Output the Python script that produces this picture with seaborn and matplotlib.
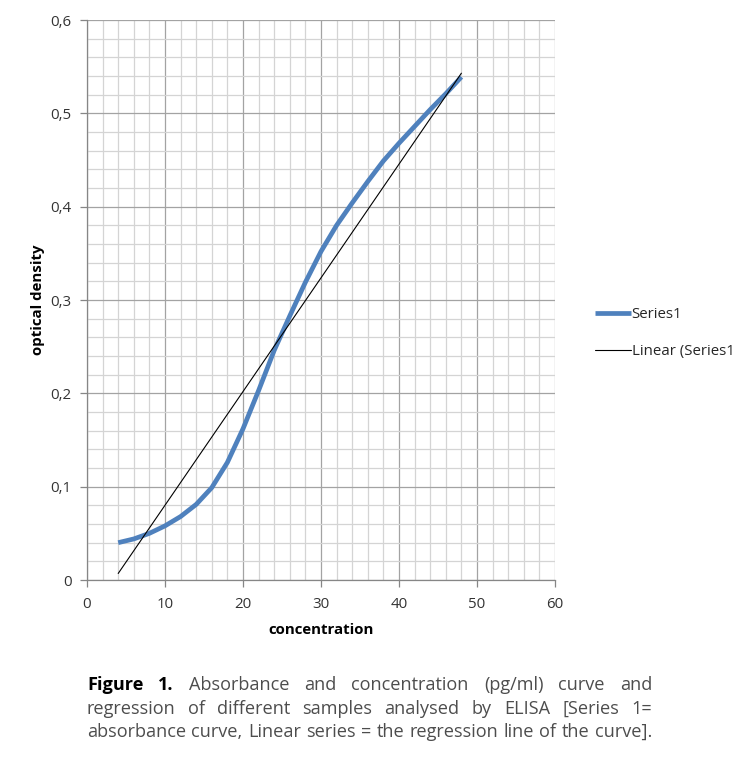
import numpy as np
import pandas as pd
import matplotlib
matplotlib.use("Agg")
import matplotlib.pyplot as plt
import seaborn as sns
from matplotlib.ticker import MultipleLocator, FixedLocator

# ---------------- data ----------------
concentration = [4, 6, 8, 10, 12, 14, 16, 18, 20, 22, 24, 26, 28, 30, 32, 34,
                 36, 38, 40, 42, 44, 46, 48]
optical_density = [0.040, 0.044, 0.050, 0.058, 0.068, 0.081, 0.099, 0.126,
                   0.162, 0.203, 0.246, 0.283, 0.319, 0.352, 0.380, 0.404,
                   0.427, 0.449, 0.468, 0.486, 0.504, 0.521, 0.539]
trend_x = [4, 48]
trend_y = [0.007, 0.543]

x_ticks = [0, 10, 20, 30, 40, 50, 60]
y_ticks = [0.0, 0.1, 0.2, 0.3, 0.4, 0.5, 0.6]
y_tick_labels = ["0", "0,1", "0,2", "0,3", "0,4", "0,5", "0,6"]
series_labels = ["Series1", "Linear (Series1)"]
x_title = "concentration"
y_title = "optical density"
caption_lines = [
    [("Figure", "bold"), ("1.", "bold"), ("Absorbance", "normal"), ("and", "normal"),
     ("concentration", "normal"), ("(pg/ml)", "normal"), ("curve", "normal"), ("and", "normal")],
    [(w, "normal") for w in "regression of different samples analysed by ELISA [Series 1=".split()],
    [(w, "normal") for w in "absorbance curve, Linear series = the regression line of the curve].".split()],
]

# ---------------- figure ----------------
W, H = 733, 783
sns.set_theme(style="white")
plt.rcParams['font.family'] = ['Open Sans', 'DejaVu Sans']
fig = plt.figure(figsize=(W / 100, H / 100), dpi=100)
L, R, T, B = 87, 555, 20, 580
ax = fig.add_axes([L / W, 1 - B / H, (R - L) / W, (B - T) / H])

df = pd.DataFrame({"x": concentration, "y": optical_density})
tr = pd.DataFrame({"x": trend_x, "y": trend_y})
sns.lineplot(data=df, x="x", y="y", ax=ax, color="#4F81BD", linewidth=3.4,
             sort=False, estimator=None, solid_capstyle="butt",
             solid_joinstyle="round", zorder=3)
sns.lineplot(data=tr, x="x", y="y", ax=ax, color="black", linewidth=0.8,
             sort=False, estimator=None, zorder=4)

ax.set_xlim(0, 60)
ax.set_ylim(0, 0.6)
ax.xaxis.set_major_locator(FixedLocator(x_ticks))
ax.yaxis.set_major_locator(FixedLocator(y_ticks))
ax.set_yticklabels(y_tick_labels)
ax.xaxis.set_minor_locator(MultipleLocator(2))
ax.yaxis.set_minor_locator(MultipleLocator(0.02))
ax.set_axisbelow(True)
ax.grid(which="minor", color="#d4d4d4", linewidth=0.9)
ax.grid(which="major", color="#a3a3a3", linewidth=0.9)
for s in ["top", "right"]:
    ax.spines[s].set_visible(False)
for s in ["left", "bottom"]:
    ax.spines[s].set_color("#868686")
    ax.spines[s].set_linewidth(0.9)
ax.tick_params(which="major", direction="out", length=5, width=0.9, color="#868686",
               labelsize=10.8, labelcolor="#333333", left=True, bottom=True)
ax.tick_params(axis="y", pad=6)
ax.tick_params(axis="x", pad=7)
ax.tick_params(which="minor", length=0)
ax.set_xlabel(x_title, fontsize=10.8, fontweight="bold", color="black", labelpad=8)
ax.set_ylabel(y_title, fontsize=10.8, fontweight="bold", color="black", labelpad=4)

handles = ax.get_lines()[:2]
ax.legend(handles, series_labels, loc="center left",
          bbox_to_anchor=(595 / W, 1 - 333 / H), bbox_transform=fig.transFigure,
          frameon=False, handlelength=2.4, handletextpad=0.05, labelspacing=1.45,
          borderpad=0, borderaxespad=0, fontsize=10.8)

# ---------------- justified caption ----------------
fig.canvas.draw()
renderer = fig.canvas.get_renderer()
cap_left, cap_right = 87, 652
baselines = [690, 714, 737]


def text_width(s, weight, size):
    t = fig.text(0, 0, s, fontsize=size, fontweight=weight)
    w = t.get_window_extent(renderer).width
    t.remove()
    return w

last_line = " ".join(w for w, _ in caption_lines[2])
w10 = text_width(last_line, "normal", 10)
cap_size = 10 * (cap_right - cap_left - 4) / w10

for line, base in zip(caption_lines, baselines):
    widths = [text_width(w, wt, cap_size) for w, wt in line]
    gap = (cap_right - cap_left - sum(widths)) / (len(line) - 1)
    x = cap_left
    for (w, wt), wd in zip(line, widths):
        col = "black" if wt == "bold" else "#4d4d4d"
        fig.text(x / W, 1 - base / H, w, fontsize=cap_size, fontweight=wt,
                 color=col, va="baseline", ha="left")
        x += wd + gap

fig.savefig("out.png", dpi=100)
